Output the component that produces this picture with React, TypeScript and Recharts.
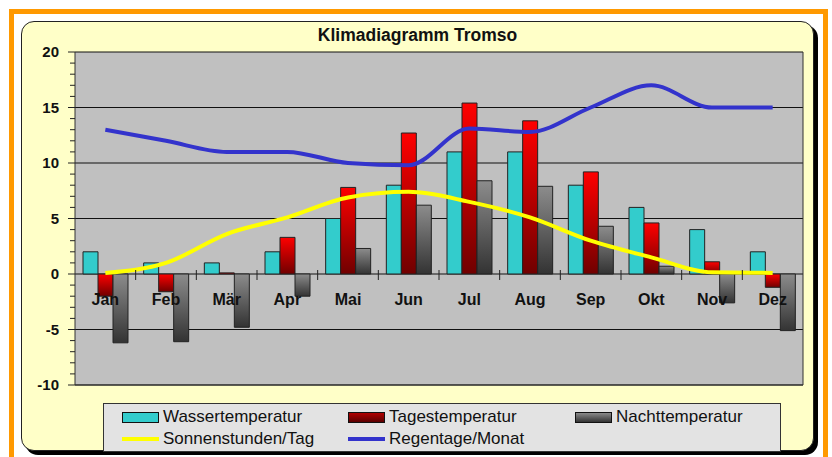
import React from 'react'
import {
  ComposedChart, Bar, Line, XAxis, YAxis, CartesianGrid
} from 'recharts'

const MONTHS = ['Jan', 'Feb', 'Mär', 'Apr', 'Mai', 'Jun', 'Jul', 'Aug', 'Sep', 'Okt', 'Nov', 'Dez']
const WASSER = [2, 1, 1, 2, 5, 8, 11, 11, 8, 6, 4, 2]
const TAGES = [-2, -1.6, 0.1, 3.3, 7.8, 12.7, 15.4, 13.8, 9.2, 4.6, 1.1, -1.2]
const NACHT = [-6.2, -6.1, -4.8, -2, 2.3, 6.2, 8.4, 7.9, 4.3, 0.7, -2.6, -5.1]
const SONNE = [0.1, 1.0, 3.6, 5.1, 6.9, 7.4, 6.5, 5.1, 3.0, 1.5, 0.15, 0.1]
const REGEN = [13, 12, 11, 11, 10, 9.8, 13.1, 12.8, 15, 17, 15, 15]
const Y_TICKS = [-10, -5, 0, 5, 10, 15, 20]

const FONT = '"Liberation Sans", Arial, sans-serif'

// plot box inside the 832x457 picture
const PLOT_LEFT = 75
const PLOT_RIGHT = 803
const PLOT_TOP = 52
const PLOT_BOTTOM = 385
const UNIT = (PLOT_BOTTOM - PLOT_TOP) / 30
const ZERO_Y = PLOT_TOP + 20 * UNIT
const BAND = (PLOT_RIGHT - PLOT_LEFT) / MONTHS.length

const data = MONTHS.map((month, i) => ({
  month,
  wasser: WASSER[i],
  tages: TAGES[i],
  nacht: NACHT[i],
  sonne: SONNE[i],
  regen: REGEN[i],
}))

function YTick(props: any) {
  const { y, payload } = props
  const v = payload.value as number
  const minors = v < 20 ? [1, 2, 3, 4] : []
  return (
    <g>
      <line x1={PLOT_LEFT - 7} x2={PLOT_LEFT} y1={y} y2={y} stroke="#222" />
      {minors.map(k => (
        <line key={k} x1={PLOT_LEFT - 5} x2={PLOT_LEFT} y1={y - k * UNIT} y2={y - k * UNIT} stroke="#222" />
      ))}
      <text x={59} y={y} dy={5} textAnchor="end" fontWeight="bold" fontSize={15} fill="#111" fontFamily={FONT}>
        {v}
      </text>
    </g>
  )
}

function XTick(props: any) {
  const { x, index, payload } = props
  return (
    <g>
      {index > 0 && (
        <line x1={x - BAND / 2} x2={x - BAND / 2} y1={ZERO_Y - 4} y2={ZERO_Y + 6} stroke="#222" />
      )}
      <text x={x} y={ZERO_Y + 31} textAnchor="middle" fontWeight="bold" fontSize={16} fill="#111" fontFamily={FONT}>
        {payload.value}
      </text>
    </g>
  )
}

const LEGEND = [
  { name: 'Wassertemperatur', kind: 'bar', bg: '#33CCCC', col: 0, row: 0 },
  { name: 'Tagestemperatur', kind: 'bar', bg: 'linear-gradient(#b00000, #5a0000)', col: 1, row: 0 },
  { name: 'Nachttemperatur', kind: 'bar', bg: 'linear-gradient(#8a8a8a, #333)', col: 2, row: 0 },
  { name: 'Sonnenstunden/Tag', kind: 'line', bg: '#FFFF00', col: 0, row: 1 },
  { name: 'Regentage/Monat', kind: 'line', bg: '#3333CC', col: 1, row: 1 },
]
const LEGEND_COLS = [18, 244, 471]

export default function App() {
  return (
    <div style={{ position: 'absolute', left: 0, top: 0, width: 832, height: 457, background: '#fff', overflow: 'hidden', fontFamily: FONT }}>
      <div style={{ position: 'absolute', left: 9, top: 9, width: 819, height: 480, border: '5px solid #FF9900', boxSizing: 'border-box' }} />
      <div style={{
        position: 'absolute', left: 21, top: 21, width: 793, height: 430, boxSizing: 'border-box',
        background: '#FFFFC8', border: '1px solid #222', borderRadius: 13, boxShadow: '4px 4px 0 #000'
      }} />
      <div style={{ position: 'absolute', left: 21, width: 793, top: 25, textAlign: 'center', fontWeight: 'bold', fontSize: 17.5, color: '#111' }}>
        Klimadiagramm Tromso
      </div>

      <div style={{ position: 'absolute', left: 0, top: 0 }}>
        <ComposedChart
          width={832}
          height={457}
          data={data}
          barGap={0}
          margin={{ top: PLOT_TOP, right: 832 - PLOT_RIGHT - 1, left: PLOT_LEFT - 50, bottom: 457 - PLOT_BOTTOM - 20 }}
        >
          <defs>
            <linearGradient id="redGrad" x1="0" y1="0" x2="0" y2="1">
              <stop offset="0%" stopColor="#FF0000" />
              <stop offset="100%" stopColor="#700000" />
            </linearGradient>
            <linearGradient id="grayGrad" x1="0" y1="0" x2="0" y2="1">
              <stop offset="0%" stopColor="#8c8c8c" />
              <stop offset="100%" stopColor="#333333" />
            </linearGradient>
          </defs>
          <CartesianGrid fill="#C0C0C0" fillOpacity={1} vertical={false} stroke="#111" strokeOpacity={1} />
          <XAxis
            dataKey="month"
            height={20}
            interval={0}
            tickLine={false}
            axisLine={{ stroke: '#333' }}
            tick={XTick}
          />
          <YAxis
            domain={[-10, 20]}
            ticks={Y_TICKS}
            interval={0}
            width={50}
            tickLine={false}
            axisLine={{ stroke: '#333' }}
            tick={YTick}
          />
          <YAxis
            yAxisId="right"
            orientation="right"
            domain={[-10, 20]}
            width={1}
            tick={false}
            tickLine={false}
            axisLine={{ stroke: '#333' }}
          />
          <Bar dataKey="wasser" fill="#33CCCC" stroke="#222" barSize={15} isAnimationActive={false} />
          <Bar dataKey="tages" fill="url(#redGrad)" stroke="#222" barSize={15} isAnimationActive={false} />
          <Bar dataKey="nacht" fill="url(#grayGrad)" stroke="#222" barSize={15} isAnimationActive={false} />
          <Line type="monotone" dataKey="sonne" stroke="#FFFF00" strokeWidth={4} dot={false} isAnimationActive={false} />
          <Line type="monotone" dataKey="regen" stroke="#3333CC" strokeWidth={4} dot={false} isAnimationActive={false} />
        </ComposedChart>
      </div>

      <div style={{
        position: 'absolute', left: 103, top: 403, width: 678, height: 49, boxSizing: 'border-box',
        background: '#E3E3E3', border: '1px solid #333'
      }}>
        {LEGEND.map(item => (
          <div key={item.name} style={{ position: 'absolute', left: LEGEND_COLS[item.col], top: 3 + item.row * 22, height: 20, display: 'flex', alignItems: 'center' }}>
            {item.kind === 'bar' ? (
              <div style={{ width: 35, height: 9, background: item.bg, border: '1px solid #111' }} />
            ) : (
              <div style={{ width: 37, height: 4, background: item.bg }} />
            )}
            <span style={{ marginLeft: 4, fontSize: 17, color: '#111', whiteSpace: 'nowrap' }}>{item.name}</span>
          </div>
        ))}
      </div>
    </div>
  )
}
